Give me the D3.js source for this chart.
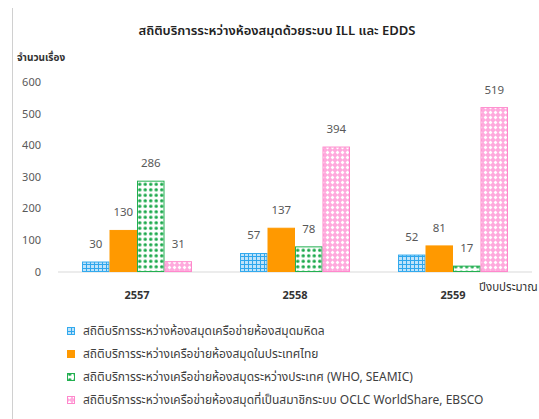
<!DOCTYPE html>
<html>
<head>
<meta charset="utf-8">
<script src="https://cdn.jsdelivr.net/npm/d3@7"></script>
<style>
  body { margin: 0; background: #fff; }
  svg { display: block; font-family: "Noto Sans Thai", "Noto Sans", "DejaVu Sans", sans-serif; }
</style>
</head>
<body>
<div id="wrapper"></div>
<script>
// data
const years = ["2557", "2558", "2559"];
const seriesNames = [
  "สถิติบริการระหว่างห้องสมุดเครือข่ายห้องสมุดมหิดล",
  "สถิติบริการระหว่างเครือข่ายห้องสมุดในประเทศไทย",
  "สถิติบริการระหว่างเครือข่ายห้องสมุดระหว่างประเทศ (WHO, SEAMIC)",
  "สถิติบริการระหว่างเครือข่ายห้องสมุดที่เป็นสมาชิกระบบ OCLC WorldShare, EBSCO"
];
const mahidol = [30, 57, 52];
const thailand = [130, 137, 81];
const international = [286, 78, 17];
const oclc = [31, 394, 519];
const yTicks = [0, 100, 200, 300, 400, 500, 600];

const seriesValues = [mahidol, thailand, international, oclc];
const fills = ["url(#patBlue)", "#ff9900", "url(#patGreen)", "url(#patPink)"];
const strokes = ["#33aaee", "#ff9900", "#22b050", "#ff88cc"];

const width = 539, height = 419;
const svg = d3.select("#wrapper").append("svg")
              .attr("width", width)
              .attr("height", height);

let defs = svg.append("defs");

let pb = defs.append("pattern").attr("id", "patBlue")
             .attr("patternUnits", "userSpaceOnUse")
             .attr("width", 4).attr("height", 4);
pb.append("rect").attr("width", 4).attr("height", 4).attr("fill", "#bfe3fa");
pb.append("path").attr("d", "M0 0.5H4M0.5 0V4").attr("stroke", "#2fa6ec").attr("stroke-width", 1);

let pg = defs.append("pattern").attr("id", "patGreen")
             .attr("patternUnits", "userSpaceOnUse")
             .attr("width", 5.5).attr("height", 5.5);
pg.append("rect").attr("width", 5.5).attr("height", 5.5).attr("fill", "#ffffff");
pg.append("circle").attr("cx", 2.75).attr("cy", 2.75).attr("r", 1.7).attr("fill", "#1aa84a");

let pp = defs.append("pattern").attr("id", "patPink")
             .attr("patternUnits", "userSpaceOnUse")
             .attr("width", 5).attr("height", 5);
pp.append("rect").attr("width", 5).attr("height", 5).attr("fill", "#ffaadd");
pp.append("path").attr("d", "M2.5 0.6L4.4 2.5L2.5 4.4L0.6 2.5Z").attr("fill", "#ffffff");

// left frame line
svg.append("line")
   .attr("x1", 12.5).attr("x2", 12.5)
   .attr("y1", 8).attr("y2", height)
   .attr("stroke", "#d0d0d0");

const x0 = d3.scaleBand()
             .domain(years)
             .range([58, 532]);

const x1 = d3.scaleBand()
             .domain(d3.range(seriesValues.length))
             .range([0, 110]);

const yScale = d3.scaleLinear()
                 .domain([0, 600])
                 .range([271.5, 82]);

svg.append("text")
   .attr("x", 277).attr("y", 35)
   .attr("text-anchor", "middle")
   .style("font-size", "13px")
   .style("font-weight", "600")
   .style("fill", "#222")
   .text("สถิติบริการระหว่างห้องสมุดด้วยระบบ ILL และ EDDS");

svg.append("text")
   .attr("x", 17).attr("y", 61)
   .style("font-size", "10px")
   .style("font-weight", "700")
   .style("fill", "#333")
   .text("จำนวนเรื่อง");

// y tick labels
svg.append("g")
   .selectAll("text")
   .data(yTicks)
   .enter()
   .append("text")
   .attr("x", 41)
   .attr("y", d => yScale(d) + 4)
   .attr("text-anchor", "end")
   .style("font-size", "11px")
   .style("fill", "#595959")
   .text(d => d);

// baseline
svg.append("line")
   .attr("x1", 58).attr("x2", 532)
   .attr("y1", yScale(0) + 0.5).attr("y2", yScale(0) + 0.5)
   .attr("stroke", "#d9d9d9");

let groups = svg.append("g")
                .selectAll("g")
                .data(years)
                .enter()
                .append("g")
                .attr("transform", d => `translate(${x0(d) + x0.bandwidth() / 2 - 55}, 0)`);

groups.selectAll("rect")
      .data((d, i) => seriesValues.map((s, k) => ({k: k, v: s[i]})))
      .enter()
      .append("rect")
      .attr("x", d => x1(d.k) + 0.5)
      .attr("y", d => yScale(d.v))
      .attr("width", x1.bandwidth() - 1)
      .attr("height", d => yScale(0) - yScale(d.v))
      .attr("fill", d => fills[d.k])
      .attr("stroke", d => strokes[d.k])
      .attr("stroke-width", 1);

groups.selectAll("text.val")
      .data((d, i) => seriesValues.map((s, k) => ({k: k, v: s[i]})))
      .enter()
      .append("text")
      .attr("class", "val")
      .attr("x", d => x1(d.k) + x1.bandwidth() / 2)
      .attr("y", d => yScale(d.v) - 14)
      .attr("text-anchor", "middle")
      .style("font-size", "11.5px")
      .style("fill", "#595959")
      .text(d => d.v);

// category labels
svg.append("g")
   .selectAll("text")
   .data(years)
   .enter()
   .append("text")
   .attr("x", d => x0(d) + x0.bandwidth() / 2)
   .attr("y", 299)
   .attr("text-anchor", "middle")
   .style("font-size", "11px")
   .style("font-weight", "700")
   .style("fill", "#333")
   .text(d => d);

svg.append("text")
   .attr("x", 479).attr("y", 291)
   .style("font-size", "11.5px")
   .style("fill", "#333")
   .text("ปีงบประมาณ");

// legend
let legend = svg.append("g")
                .selectAll("g")
                .data(seriesNames)
                .enter()
                .append("g")
                .attr("transform", (d, i) => `translate(67, ${331 + i * 23})`);

legend.append("rect")
      .attr("x", 0.5).attr("y", -3.5)
      .attr("width", 7).attr("height", 7)
      .attr("fill", (d, i) => fills[i])
      .attr("stroke", (d, i) => strokes[i]);

legend.append("text")
      .attr("x", 16).attr("y", 4)
      .style("font-size", "12px")
      .style("fill", "#404040")
      .text(d => d);
</script>
</body>
</html>
